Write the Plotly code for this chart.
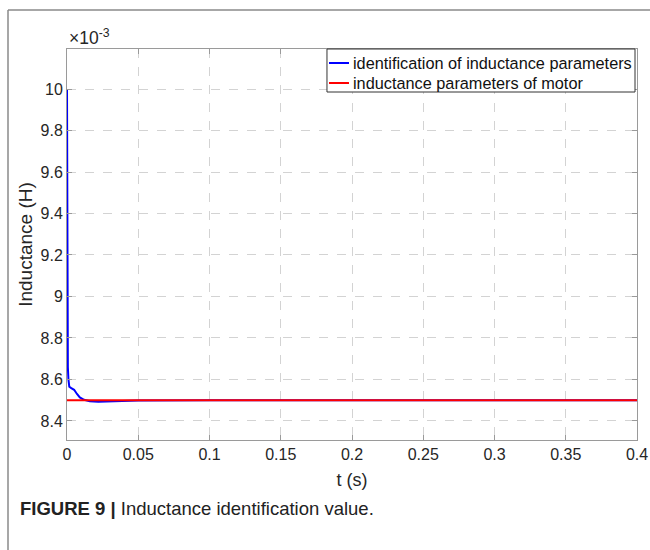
import plotly.graph_objects as go

# Data (inductance in units of 1e-3 H)
t_ident = [0.0, 0.0002, 0.0006, 0.001, 0.0016, 0.003, 0.005, 0.007, 0.009, 0.012, 0.016, 0.022, 0.03, 0.04, 0.05, 0.1, 0.2, 0.3, 0.4]
L_ident = [10.0, 9.3, 8.66, 8.6, 8.565, 8.558, 8.55, 8.53, 8.513, 8.502, 8.495, 8.492, 8.493, 8.497, 8.499, 8.5, 8.5, 8.5, 8.5]
t_motor = [0.0, 0.4]
L_motor = [8.5, 8.5]

series_names = ["identification of inductance parameters", "inductance parameters of motor"]
series_colors = ["#0000ff", "#ff0000"]

x_ticks = [0, 0.05, 0.1, 0.15, 0.2, 0.25, 0.3, 0.35, 0.4]
x_ticktext = ["0", "0.05", "0.1", "0.15", "0.2", "0.25", "0.3", "0.35", "0.4"]
y_ticks = [8.4, 8.6, 8.8, 9.0, 9.2, 9.4, 9.6, 9.8, 10.0]
y_ticktext = ["8.4", "8.6", "8.8", "9", "9.2", "9.4", "9.6", "9.8", "10"]

FONT = "Liberation Sans, Arial, sans-serif"
TXT = "#262626"

fig = go.Figure()
fig.add_trace(go.Scatter(x=t_ident, y=L_ident, mode="lines",
                         line=dict(color=series_colors[0], width=2),
                         name=series_names[0], showlegend=False))
fig.add_trace(go.Scatter(x=t_motor, y=L_motor, mode="lines",
                         line=dict(color=series_colors[1], width=2),
                         name=series_names[1], showlegend=False))

axis_common = dict(showline=True, linecolor="#9a9a9a", linewidth=1, mirror="ticks",
                   ticks="inside", ticklen=5, tickcolor="#9a9a9a",
                   showgrid=True, gridcolor="#d3d3d3", griddash="dash", gridwidth=1,
                   zeroline=False, automargin=False,
                   tickfont=dict(family=FONT, size=16, color=TXT))

fig.update_layout(
    width=650, height=550,
    margin=dict(l=67, r=13, t=49, b=110),
    paper_bgcolor="white", plot_bgcolor="white",
    font=dict(family=FONT, color=TXT),
    xaxis=dict(range=[0, 0.4], tickvals=x_ticks, ticktext=x_ticktext,
               title=dict(text="t (s)", font=dict(family=FONT, size=18, color=TXT), standoff=11),
               **axis_common),
    yaxis=dict(range=[8.308, 10.193], tickvals=y_ticks, ticktext=y_ticktext,
               title=dict(text="Inductance (H)", font=dict(family=FONT, size=19, color=TXT), standoff=2),
               **axis_common),
    showlegend=False,
)

# Manual legend box (MATLAB-style compact legend)
fig.add_shape(type="rect", xref="paper", yref="paper", x0=0.4561, x1=0.9965, y0=0.890, y1=1.0,
              line=dict(color="#333333", width=1), fillcolor="white", layer="above")
legend_rows = [0.9642, 0.9130]
for name, color, yrow in zip(series_names, series_colors, legend_rows):
    fig.add_shape(type="line", xref="paper", yref="paper", x0=0.4596, x1=0.4947, y0=yrow, y1=yrow,
                  line=dict(color=color, width=2), layer="above")
    fig.add_annotation(xref="paper", yref="paper", x=0.4985, y=yrow, xanchor="left", yanchor="middle",
                       text=name, showarrow=False,
                       font=dict(family=FONT, size=16.3, color="#111111"))

fig.add_annotation(xref="paper", yref="paper", x=0, y=1, xanchor="left", yanchor="bottom",
                   yshift=-1, text="×10<sup>-3</sup>", showarrow=False,
                   font=dict(family=FONT, size=17.5, color=TXT))

fig.add_annotation(xref="paper", yref="paper", x=-0.086, y=-0.174, xanchor="left", yanchor="middle",
                   text="<b>FIGURE 9 |</b> Inductance identification value.", showarrow=False,
                   font=dict(family=FONT, size=18.5, color="#222222"))

# Outer figure frame (top and left edges)
fig.add_shape(type="line", xref="paper", yref="paper", x0=-0.1035, x1=1.03, y0=1.0997, y1=1.0997,
              line=dict(color="#8a8a8a", width=1.5))
fig.add_shape(type="line", xref="paper", yref="paper", x0=-0.1035, x1=-0.1035, y0=1.0997, y1=-0.3,
              line=dict(color="#8a8a8a", width=1.5))

fig.write_html("out.html",
               config={"displayModeBar": False},
               post_script="document.body.style.margin='0';document.body.style.overflow='hidden';")
